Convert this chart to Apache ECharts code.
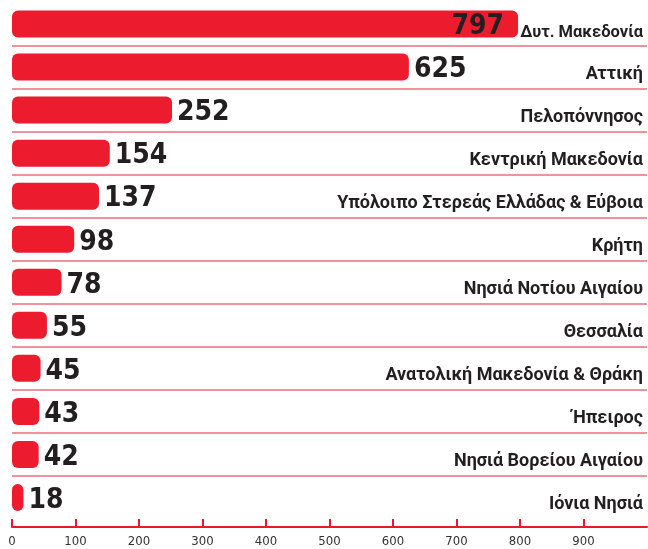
<!DOCTYPE html>
<html>
<head>
<meta charset="utf-8">
<script src="https://cdn.jsdelivr.net/npm/echarts@6/dist/echarts.min.js"></script>
<style>
  html, body { margin: 0; padding: 0; background: #fff; }
  #chart { width: 648px; height: 549px; }
</style>
</head>
<body>
<div id="chart"></div>
<script>
// regions, top to bottom
const categories = [
  'Δυτ. Μακεδονία',
  'Αττική',
  'Πελοπόννησος',
  'Κεντρική Μακεδονία',
  'Υπόλοιπο Στερεάς Ελλάδας & Εύβοια',
  'Κρήτη',
  'Νησιά Νοτίου Αιγαίου',
  'Θεσσαλία',
  'Ανατολική Μακεδονία & Θράκη',
  'Ήπειρος',
  'Νησιά Βορείου Αιγαίου',
  'Ιόνια Νησιά'
];
const values = [797, 625, 252, 154, 137, 98, 78, 55, 45, 43, 42, 18];

const RED = '#ec1c2e';
const INK = '#231f20';
const NARROW = '"DejaVu Sans Condensed", "Roboto", sans-serif';

// the biggest bar carries its number inside, next to the region name
const barData = values.map((v, i) => {
  if (i === 0) {
    return { value: v, label: { position: 'insideRight', distance: 14 } };
  }
  return v;
});
// first name sits right after the long bar, keep it a little tighter
const catData = categories.map((c, i) => {
  if (i === 0) {
    return {
      value: c,
      textStyle: {
        fontSize: 16.5, fontWeight: 'bold', fontFamily: 'Roboto', color: INK,
        verticalAlign: 'top', lineHeight: 14, padding: [2, 0, 0, 0]
      }
    };
  }
  return c;
});

const chart = echarts.init(document.getElementById('chart'));
chart.setOption({
  animation: false,
  backgroundColor: '#fff',
  grid: { left: 12, right: 1, top: 2.5, bottom: 30 },
  xAxis: {
    type: 'value',
    min: 0,
    max: 1000,
    interval: 100,
    offset: 8,
    axisLine: { show: true, lineStyle: { color: '#e8192c', width: 2 } },
    axisTick: { show: true, inside: true, length: 8, lineStyle: { color: '#e8192c', width: 2 } },
    axisLabel: {
      showMaxLabel: false,
      margin: 8,
      color: '#333',
      fontSize: 13,
      fontFamily: NARROW
    },
    splitLine: { show: false }
  },
  yAxis: {
    type: 'category',
    inverse: true,
    data: catData,
    position: 'right',
    z: 5,
    axisLine: { show: false },
    axisTick: { show: false },
    axisLabel: {
      inside: true,
      margin: 4,
      color: INK,
      fontSize: 18,
      fontWeight: 'bold',
      fontFamily: 'Roboto',
      verticalAlign: 'top',
      lineHeight: 14
    },
    splitLine: {
      show: true,
      showMinLine: false,
      showMaxLine: false,
      lineStyle: { color: '#f2919b', width: 2 }
    }
  },
  series: [{
    type: 'bar',
    data: barData,
    barWidth: 27,
    itemStyle: { color: RED, borderRadius: 6 },
    label: {
      show: true,
      position: 'right',
      distance: 5,
      offset: [0, 3],
      color: INK,
      fontSize: 28,
      fontWeight: 'bold',
      fontFamily: NARROW
    }
  }]
});
</script>
</body>
</html>
